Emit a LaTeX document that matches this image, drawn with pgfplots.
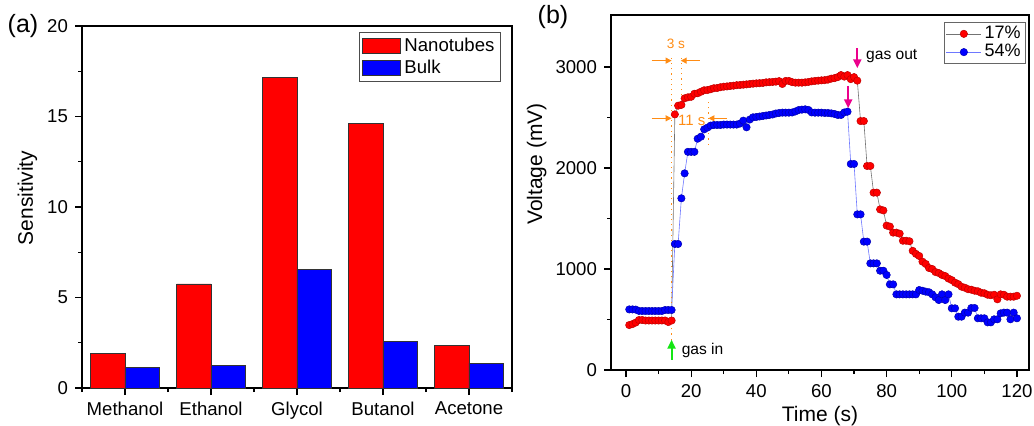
\documentclass[border=0pt]{standalone}
\usepackage{fontspec}
\setmainfont{Liberation Sans}
\usepackage{pgfplots}
\pgfplotsset{compat=1.18}
\usetikzlibrary{arrows.meta}
\definecolor{orng}{RGB}{255,140,20}
\definecolor{gasgreen}{RGB}{20,230,20}
\definecolor{lblue}{RGB}{110,120,255}
\begin{document}
\begin{tikzpicture}
\path[use as bounding box] (0,0) rectangle (517pt,212.5pt);
\pgfplotsset{
  every axis/.append style={
    scale only axis,
    /pgf/number format/assume math mode=true,
    /pgf/number format/1000 sep={},
    tick pos=left,
    tick align=outside,
    major tick length=3.5pt,
    minor tick length=2pt,
    axis line style={line width=0.6pt},
    every tick/.style={line width=0.6pt, black},
    tick label style={font=\fontsize{9.3}{11}\selectfont},
    label style={font=\fontsize{10.5}{12}\selectfont},
  }
}
\node at (11.5pt,199.5pt) {\fontsize{12.5}{14}\selectfont (a)};
\node at (276.5pt,204pt) {\fontsize{12.5}{14}\selectfont (b)};
% ---------- panel (a)
\begin{axis}[
  at={(41pt,18.5pt)}, anchor=south west,
  width=215pt, height=181pt,
  xmin=0.5, xmax=5.5, ymin=0, ymax=20,
  xtick={1,2,3,4,5},
  xticklabels={Methanol,Ethanol,Glycol,Butanol,Acetone},
  minor xtick={0.5,1.5,2.5,3.5,4.5,5.5},
  ytick={0,5,10,15,20},
  minor ytick={2.5,7.5,12.5,17.5},
  ylabel={Sensitivity},
  ylabel style={at={(axis description cs:-0.1267,0.525)}, anchor=center},
  legend style={at={(0.974,0.983)}, anchor=north east, draw=black!70,
    line width=0.4pt, font=\fontsize{9.3}{11}\selectfont,
    nodes={inner ysep=0.6pt, inner xsep=2pt},
    inner xsep=1pt, inner ysep=2pt, row sep=1.6pt, cells={anchor=west}},
  legend image code/.code={\draw[#1] (0pt,-3.9pt) rectangle (19pt,3.9pt);},
]
\addplot[ybar, bar width=0.4, bar shift=-0.2, fill=red, draw=black!80, line width=0.4pt]
  coordinates {(1,1.93) (2,5.75) (3,17.15) (4,14.63) (5,2.37)};
\addlegendentry{Nanotubes}
\addplot[ybar, bar width=0.4, bar shift=0.2, fill=blue, draw=black!80, line width=0.4pt]
  coordinates {(1,1.16) (2,1.25) (3,6.55) (4,2.55) (5,1.38)};
\addlegendentry{Bulk}
\end{axis}
% ---------- panel (b)
\begin{axis}[
  at={(305.5pt,27.5pt)}, anchor=south west,
  width=209pt, height=177.5pt,
  xmin=-4.6, xmax=123.7, ymin=0, ymax=3515,
  xtick={0,20,...,120}, minor x tick num=1,
  ytick={0,1000,2000,3000}, minor y tick num=1,
  xlabel={Time (s)},
  xlabel style={at={(axis description cs:0.5,-0.13)}, anchor=center},
  ylabel={Voltage (mV)},
  ylabel style={at={(axis description cs:-0.178,0.58)}, anchor=center},
  clip=false,
  legend style={at={(0.993,0.98)}, anchor=north east, draw=black!60,
    line width=0.4pt, font=\fontsize{9}{10}\selectfont,
    nodes={inner ysep=0.3pt, inner xsep=1.5pt},
    inner xsep=1pt, inner ysep=1.5pt, row sep=0.8pt, cells={anchor=west}},
  legend image code/.code={\draw[mark repeat=2,mark phase=2,#1] plot coordinates {(0pt,0pt) (8.75pt,0pt) (17.5pt,0pt)};},
]
\addplot[color=black!55, line width=0.3pt, mark=*, mark size=1.85pt, mark options={fill=red, draw=red!75!black, line width=0.25pt}]
 coordinates {
(1,445)(2,455)(3,470)(4,495)(5,495)(6,490)(7,490)(8,490)(9,490)(10,490)
(11,490)(12,490)(13,475)(14,490)(15,2531)(16,2617)(17,2625)(18,2690)(19,2700)(20,2705)
(21,2735)(22,2740)(23,2755)(24,2770)(25,2772)(26,2780)(27,2790)(28,2792)(29,2800)(30,2805)
(31,2808)(32,2812)(33,2815)(34,2820)(35,2822)(36,2825)(37,2828)(38,2832)(39,2835)(40,2838)
(41,2840)(42,2842)(43,2848)(44,2850)(45,2852)(46,2855)(47,2860)(48,2832)(49,2862)(50,2862)
(51,2850)(52,2845)(53,2845)(54,2845)(55,2848)(56,2852)(57,2858)(58,2862)(59,2865)(60,2868)
(61,2870)(62,2875)(63,2885)(64,2890)(65,2900)(66,2920)(67,2905)(68,2920)(69,2880)(70,2900)
(71,2865)(72,2465)(73,2465)(74,2020)(75,2020)(76,1756)(77,1756)(78,1590)(79,1580)(80,1430)
(81,1420)(82,1360)(83,1360)(84,1350)(85,1280)(86,1280)(87,1275)(88,1180)(89,1150)(90,1129)
(91,1073)(92,1050)(93,1010)(94,1000)(95,970)(96,960)(97,941)(98,930)(99,905)(100,890)
(101,865)(102,850)(103,825)(104,815)(105,800)(106,795)(107,785)(108,780)(109,765)(110,760)
(111,745)(112,740)(113,745)(114,700)(115,749)(116,745)(117,726)(118,726)(119,726)(120,735)
 };
\addlegendentry{17\%}
\addplot[color=lblue, line width=0.3pt, mark=*, mark size=1.85pt, mark options={fill=blue, draw=blue!70!black, line width=0.25pt}]
 coordinates {
(1,600)(2,600)(3,598)(4,585)(5,584)(6,584)(7,584)(8,584)(9,584)(10,584)
(11,584)(12,594)(13,594)(14,594)(15,1248)(16,1248)(17,1700)(18,1947)(19,2160)(20,2160)
(21,2160)(22,2290)(23,2310)(24,2383)(25,2400)(26,2420)(27,2426)(28,2426)(29,2426)(30,2430)
(31,2430)(32,2430)(33,2430)(34,2430)(35,2440)(36,2469)(37,2403)(38,2480)(39,2502)(40,2505)
(41,2510)(42,2515)(43,2520)(44,2525)(45,2530)(46,2540)(47,2545)(48,2548)(49,2548)(50,2548)
(51,2550)(52,2560)(53,2574)(54,2578)(55,2581)(56,2575)(57,2550)(58,2548)(59,2548)(60,2548)
(61,2545)(62,2545)(63,2541)(64,2535)(65,2525)(66,2525)(67,2550)(68,2558)(69,2040)(70,2040)
(71,1541)(72,1541)(73,1271)(74,1271)(75,1056)(76,1056)(77,1056)(78,983)(79,983)(80,941)
(81,848)(82,848)(83,749)(84,749)(85,749)(86,749)(87,749)(88,749)(89,749)(90,792)
(91,785)(92,776)(93,770)(94,749)(95,720)(96,693)(97,749)(98,693)(99,749)(100,611)
(101,611)(102,528)(103,528)(104,568)(105,568)(106,614)(107,614)(108,512)(109,512)(110,512)
(111,472)(112,472)(113,502)(114,502)(115,561)(116,568)(117,568)(118,502)(119,568)(120,512)
 };
\addlegendentry{54\%}
% annotations
\draw[orng, dotted, line width=0.6pt] (axis cs:14,300) -- (axis cs:14,3090);
\draw[orng, dotted, line width=0.6pt] (axis cs:17,2720) -- (axis cs:17,3100);
\draw[orng, dotted, line width=0.6pt] (axis cs:25.3,2230) -- (axis cs:25.3,2660);
\draw[orng, line width=0.6pt, -{Triangle[length=3pt,width=3pt]}] (axis cs:7.9,3063) -- (axis cs:14,3063);
\draw[orng, line width=0.6pt, -{Triangle[length=3pt,width=3pt]}] (axis cs:22.7,3063) -- (axis cs:16.8,3063);
\node[orng, font=\fontsize{6.8}{8}\selectfont] at (axis cs:15.3,3234) {3 s};
\draw[orng, line width=0.6pt, -{Triangle[length=3pt,width=3pt]}] (axis cs:7.9,2492) -- (axis cs:14,2492);
\draw[orng, line width=0.6pt, -{Triangle[length=3pt,width=3pt]}] (axis cs:30.9,2492) -- (axis cs:25.3,2492);
\node[orng, font=\fontsize{7.5}{9}\selectfont] at (axis cs:20.2,2469) {11 s};
\draw[gasgreen, line width=1.1pt, -{Triangle[length=4.5pt,width=4pt]}] (axis cs:14,100) -- (axis cs:14,300);
\node[anchor=west, font=\fontsize{7.8}{9}\selectfont, inner sep=0pt] at (axis cs:17,198) {gas in};
\draw[magenta, line width=1.1pt, -{Triangle[length=4.5pt,width=4pt]}] (axis cs:71,3185) -- (axis cs:71,2987);
\draw[magenta, line width=1.1pt, -{Triangle[length=4.5pt,width=4pt]}] (axis cs:68.2,2812) -- (axis cs:68.2,2591);
\node[anchor=west, font=\fontsize{7.8}{9}\selectfont, inner sep=0pt] at (axis cs:73.6,3109) {gas out};
\end{axis}
\end{tikzpicture}
\end{document}
